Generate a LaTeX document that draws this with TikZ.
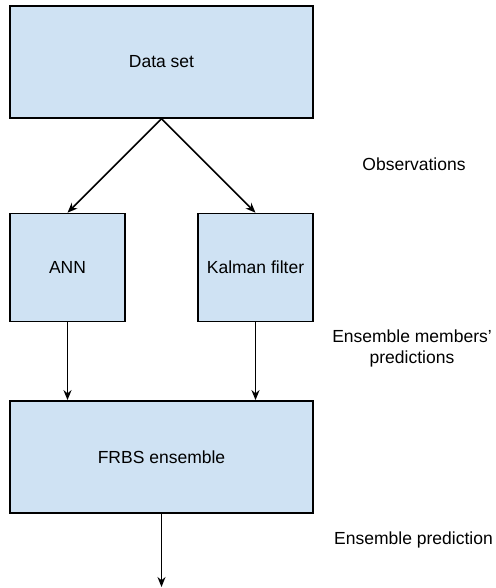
\documentclass[tikz,border=0pt]{standalone}
\usepackage{fontspec}
\setmainfont{Liberation Sans}
\usepackage{tikz}
\usetikzlibrary{positioning,arrows.meta}
\definecolor{boxblue}{HTML}{CFE2F3}
\tikzset{
  >={Stealth[length=10pt,width=8pt]},
  box/.style={draw, fill=boxblue, line width=1.4pt, inner sep=0pt},
  note/.style={align=center},
}

\begin{document}
\begin{tikzpicture}[
->,
x=1pt, y=1pt,
line width=1.6pt,
font=\fontsize{17.5}{21}\selectfont
]
\useasboundingbox (0,0) rectangle (495,-588);

\node[box,minimum width=303pt,minimum height=112pt] (data) at (161.5,-62) {Data set};
\node[box,minimum width=115pt,minimum height=108pt,anchor=north west,below right=94pt and 0pt of data.south west] (ann) {ANN};
\node[box,minimum width=115pt,minimum height=108pt,anchor=north east,below left=94pt and 0pt of data.south east] (kalman) {Kalman filter};
\node[box,minimum width=303pt,minimum height=112pt,anchor=north west,below right=78pt and 0pt of ann.south west] (frbs) {FRBS ensemble};
\coordinate (out) at (161.5,-587);

% side notes
\node[note] (obs) at (414,-164) {Observations};
\node[note] (members) at (412,-348) {Ensemble members'\\predictions};
\node[note] (pred) at (413.5,-540) {Ensemble prediction};

\path
(data.south) edge (ann.north)
(data.south) edge (kalman.north)
(ann) edge (frbs.north -| ann)
(kalman) edge (frbs.north -| kalman)
(frbs) edge (out);
\end{tikzpicture}
\end{document}
